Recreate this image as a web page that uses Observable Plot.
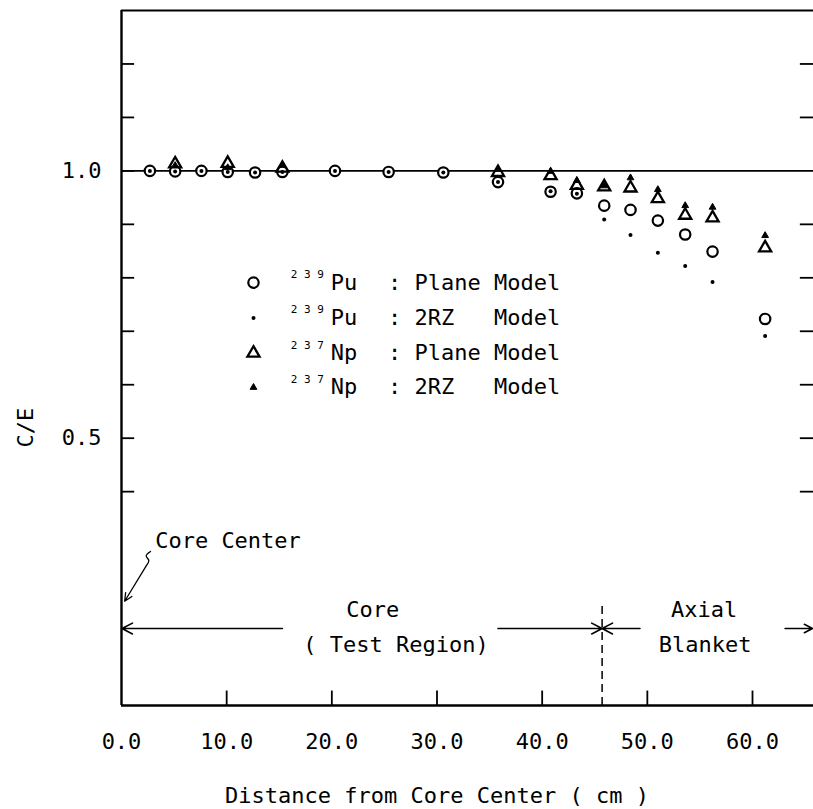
<!DOCTYPE html>
<html><head><meta charset="utf-8">
<script src="https://cdn.jsdelivr.net/npm/d3@7"></script>
<script src="https://cdn.jsdelivr.net/npm/@observablehq/plot@0.6"></script>
<style>
html,body{margin:0;padding:0;background:#fff;}
#chart svg{display:block;}
</style></head><body><div id="chart"></div>
<script>
// ---- axes / ticks ----
const xTicks = [0, 10, 20, 30, 40, 50, 60];
const xTickLabels = ["0.0", "10.0", "20.0", "30.0", "40.0", "50.0", "60.0"];
const yTicks = [0.4, 0.5, 0.6, 0.7, 0.8, 0.9, 1.0, 1.1, 1.2];
const yLabelValues = [0.5, 1.0];
const yLabels = ["0.5", "1.0"];
const xTitle = "Distance from Core Center ( cm )";
const yTitle = "C/E";

// ---- data ----
const xPu = [2.7, 5.1, 7.6, 10.1, 12.7, 15.3, 20.3, 25.4, 30.6, 35.8, 40.8, 43.3, 45.9, 48.4, 51.0, 53.6, 56.2, 61.2];
const puPlane = [1.0, 0.999, 1.0, 0.998, 0.997, 0.998, 1.0, 0.998, 0.997, 0.979, 0.961, 0.958, 0.935, 0.927, 0.907, 0.881, 0.849, 0.723];
const pu2RZ = [1.0, 0.999, 1.0, 0.998, 0.997, 0.998, 1.0, 0.998, 0.997, 0.979, 0.962, 0.957, 0.909, 0.880, 0.847, 0.822, 0.792, 0.691];
const xNp = [5.1, 10.1, 15.3, 35.8, 40.8, 43.3, 45.9, 48.4, 51.0, 53.6, 56.2, 61.2];
const npPlane = [1.013, 1.014, 1.005, 0.997, 0.991, 0.973, 0.970, 0.968, 0.948, 0.917, 0.912, 0.856];
const np2RZ = [1.010, 1.006, 1.011, 1.003, 0.999, 0.982, 0.972, 0.987, 0.965, 0.935, 0.932, 0.879];

// ---- legend text ----
const legendMass = ["239", "239", "237", "237"];
const legendElement = ["Pu", "Pu", "Np", "Np"];
const legendModel = [": Plane Model", ": 2RZ   Model", ": Plane Model", ": 2RZ   Model"];

// ---- annotation text ----
const coreCenterText = "Core Center";
const regionTexts = ["Core", "( Test Region)", "Axial", "Blanket"];
const boundaryX = 45.7;

const X_MAX = 65.8, Y_MAX = 1.3;
const nb = s => s.replace(/ /g, "\u00a0");

const legendY = [0.791, 0.725, 0.659, 0.595];

const puPlaneData = xPu.map((x, i) => ({x, y: puPlane[i]}));
const pu2RZData = xPu.map((x, i) => ({x, y: pu2RZ[i]}));
const npPlaneData = xNp.map((x, i) => ({x, y: npPlane[i]}));
const np2RZData = xNp.map((x, i) => ({x, y: np2RZ[i]}));

const regionArrows = [
  {x1: 15.3, y1: 0.144, x2: 0.05, y2: 0.144},
  {x1: 35.8, y1: 0.144, x2: boundaryX, y2: 0.144},
  {x1: 49.3, y1: 0.144, x2: boundaryX, y2: 0.144},
  {x1: 63.1, y1: 0.144, x2: 65.7, y2: 0.144}
];
const leader = [{x: 2.76, y: 0.288}, {x: 2.35, y: 0.280}, {x: 2.6, y: 0.271}, {x: 2.38, y: 0.262}];
const leaderArrow = [{x1: 2.38, y1: 0.262, x2: 0.3, y2: 0.195}];

const chart = Plot.plot({
  width: 813,
  height: 809,
  marginLeft: 121,
  marginRight: 0,
  marginTop: 10,
  marginBottom: 104,
  x: {domain: [0, X_MAX], axis: null},
  y: {domain: [0, Y_MAX], axis: null},
  style: {fontFamily: "DejaVu Sans Mono", fontSize: "22px", background: "white", color: "black"},
  marks: [
    // frame lines
    Plot.ruleY([1.0], {stroke: "black", strokeWidth: 1.6}),
    Plot.ruleX([0], {y1: 0, y2: Y_MAX, stroke: "black", strokeWidth: 2.4}),
    Plot.ruleY([0], {stroke: "black", strokeWidth: 2.4}),
    Plot.ruleY([Y_MAX], {stroke: "black", strokeWidth: 2.2}),
    // ticks
    Plot.ruleY(yTicks, {x1: 0, x2: 1.25, stroke: "black", strokeWidth: 1.8}),
    Plot.ruleY(yTicks.filter(v => v !== 1.0), {x1: X_MAX - 1.25, x2: X_MAX, stroke: "black", strokeWidth: 1.8}),
    Plot.ruleX(xTicks.slice(1), {y1: 0, y2: 0.027, stroke: "black", strokeWidth: 1.8}),
    // tick labels
    Plot.text(xTickLabels, {x: xTicks, y: 0, dy: 36, fill: "black"}),
    Plot.text(yLabels, {x: 0, y: yLabelValues, dx: -20, textAnchor: "end", fill: "black"}),
    // axis titles
    Plot.text([xTitle], {x: 30, y: 0, dy: 90, fill: "black"}),
    Plot.text([yTitle], {x: 0, y: 0.52, dx: -96, rotate: -90, fill: "black"}),
    // boundary
    Plot.ruleX([boundaryX], {y1: 0, y2: 0.191, stroke: "black", strokeWidth: 1.5, strokeDasharray: "8,5"}),
    // region arrows & texts
    Plot.arrow(regionArrows, {x1: "x1", y1: "y1", x2: "x2", y2: "y2", stroke: "black", strokeWidth: 1.6, headLength: 11, headAngle: 55}),
    Plot.text([regionTexts[0]], {x: 23.9, y: 0.178, fill: "black"}),
    Plot.text([nb(regionTexts[1])], {x: 26.1, y: 0.113, fill: "black"}),
    Plot.text([regionTexts[2]], {x: 55.4, y: 0.178, fill: "black"}),
    Plot.text([regionTexts[3]], {x: 55.5, y: 0.113, fill: "black"}),
    // core center
    Plot.text([nb(coreCenterText)], {x: 3.2, y: 0.308, textAnchor: "start", fill: "black"}),
    Plot.line(leader, {x: "x", y: "y", curve: "catmull-rom", stroke: "black", strokeWidth: 1.3}),
    Plot.arrow(leaderArrow, {x1: "x1", y1: "y1", x2: "x2", y2: "y2", stroke: "black", strokeWidth: 1.3, headLength: 10, headAngle: 50}),
    // data
    Plot.dot(puPlaneData, {x: "x", y: "y", symbol: "circle", r: 5.2, fill: "white", stroke: "black", strokeWidth: 2.2}),
    Plot.dot(pu2RZData, {x: "x", y: "y", r: 2, fill: "black", stroke: "none"}),
    Plot.dot(npPlaneData, {x: "x", y: "y", symbol: "triangle", r: 4.5, fill: "none", stroke: "black", strokeWidth: 2.3}),
    Plot.dot(np2RZData, {x: "x", y: "y", symbol: "triangle", r: 2.5, fill: "black", stroke: "black", strokeWidth: 1}),
    // legend markers
    Plot.dot([0], {x: 12.55, y: legendY[0], symbol: "circle", r: 5.2, fill: "white", stroke: "black", strokeWidth: 2.2}),
    Plot.dot([0], {x: 12.55, y: legendY[1], r: 2, fill: "black", stroke: "none"}),
    Plot.dot([0], {x: 12.55, y: legendY[2], symbol: "triangle", r: 4.5, fill: "none", stroke: "black", strokeWidth: 2.3}),
    Plot.dot([0], {x: 12.55, y: legendY[3], symbol: "triangle", r: 2.5, fill: "black", stroke: "black", strokeWidth: 1}),
    // legend text
    Plot.text(legendMass.map(m => nb(m.split("").join(" "))), {x: 16.1, y: legendY, dy: -8, fontSize: 11, textAnchor: "start", fill: "black"}),
    Plot.text(legendElement, {x: 19.9, y: legendY, textAnchor: "start", fill: "black"}),
    Plot.text(legendModel.map(nb), {x: 25.35, y: legendY, textAnchor: "start", fill: "black"})
  ]
});
document.getElementById("chart").appendChild(chart);
</script>
</body></html>
